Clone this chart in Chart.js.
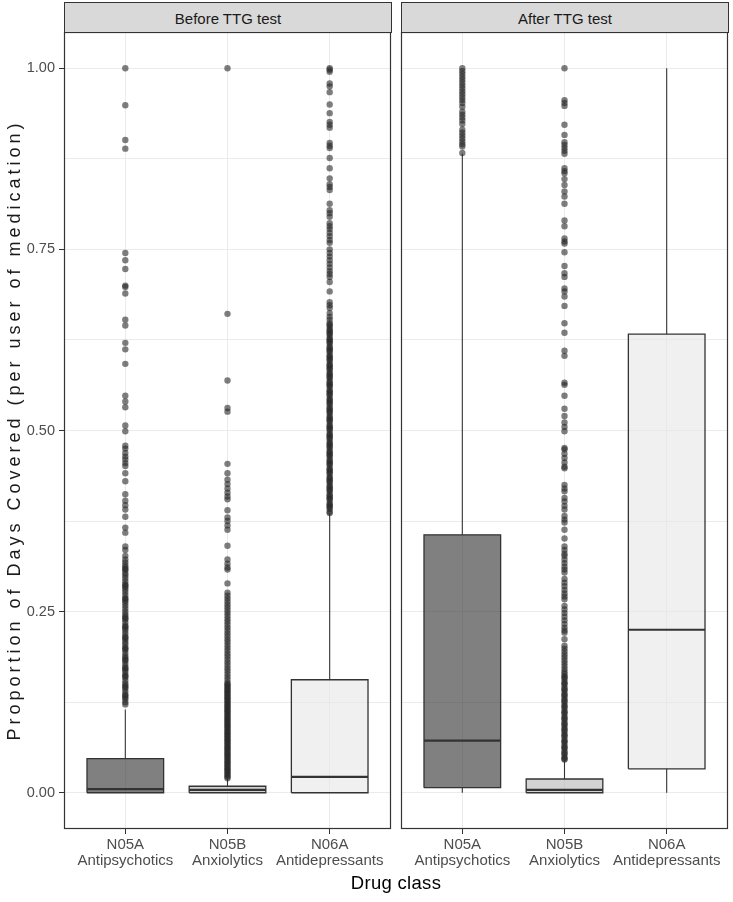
<!DOCTYPE html>
<html>
<head>
<meta charset="utf-8">
<script src="https://cdn.jsdelivr.net/npm/chart.js@4.4.0/dist/chart.umd.min.js"></script>
<style>
html,body{margin:0;padding:0;background:#fff;}
#wrap{position:relative;width:733px;height:902px;overflow:hidden;font-family:"Liberation Sans",Arial,sans-serif;}
canvas{position:absolute;top:0;}
.strip{position:absolute;top:2px;height:31px;box-sizing:border-box;background:#d9d9d9;border:1px solid #333;color:#1a1a1a;font-size:15px;line-height:31px;text-align:center;}
#xtitle{position:absolute;left:0;width:792px;top:872px;font-size:18.5px;line-height:22px;text-align:center;color:#000;letter-spacing:0.3px;}
#ytitle{position:absolute;left:14px;top:430px;width:700px;height:22px;margin-left:-350px;margin-top:-11px;transform:rotate(-90deg);font-size:18px;line-height:22px;text-align:center;color:#1a1a1a;letter-spacing:4px;white-space:nowrap;}
</style>
</head>
<body>
<div id="wrap">
  <canvas id="cBefore" width="396" height="902" style="left:0px;width:396px;height:902px"></canvas>
  <canvas id="cAfter" width="337" height="902" style="left:396px;width:337px;height:902px"></canvas>
  <div class="strip" id="s0" style="left:64px;width:328px"></div>
  <div class="strip" id="s1" style="left:401px;width:328px"></div>
  <div id="xtitle"></div>
  <div id="ytitle"></div>
</div>
<script>
// ---------- data ----------
const panels = ['Before TTG test', 'After TTG test'];
const categories = ['N05A', 'N05B', 'N06A'];
const categoryNames = ['Antipsychotics', 'Anxiolytics', 'Antidepressants'];
const positions = [1, 2, 3];
const xTitle = 'Drug class';
const yTitle = 'Proportion of Days Covered (per user of medication)';
const yMajorTicks = [0, 0.25, 0.5, 0.75, 1];
const yTickLabels = ['0.00', '0.25', '0.50', '0.75', '1.00'];
const yGridValues = [0, 0.125, 0.25, 0.375, 0.5, 0.625, 0.75, 0.875, 1];

// box statistics (per category N05A, N05B, N06A)
const beforeLower  = [0, 0, 0];
const beforeQ1     = [0, 0, 0];
const beforeMedian = [0.005, 0.004, 0.022];
const beforeQ3     = [0.047, 0.009, 0.156];
const beforeUpper  = [0.115, 0.019, 0.385];

const afterLower  = [0, 0, 0];
const afterQ1     = [0.007, 0, 0.033];
const afterMedian = [0.072, 0.004, 0.225];
const afterQ3     = [0.356, 0.019, 0.633];
const afterUpper  = [0.882, 0.045, 1.0];

// outliers
const beforeOutN05A = [1.000, 0.949, 0.901, 0.889, 0.745, 0.735, 0.723, 0.700, 0.698, 0.689, 0.653, 0.645, 0.621, 0.612, 0.592, 0.548, 0.540, 0.532, 0.507, 0.499, 0.479, 0.475, 0.469, 0.464, 0.460, 0.455, 0.451, 0.441, 0.430, 0.412, 0.403, 0.397, 0.391, 0.381, 0.366, 0.359, 0.340, 0.335, 0.327,
  0.322, 0.318, 0.314, 0.311, 0.307, 0.303, 0.300, 0.296, 0.292, 0.288, 0.284, 0.281, 0.277, 0.273, 0.269, 0.265, 0.262, 0.258, 0.254, 0.250, 0.246, 0.243, 0.239, 0.235, 0.231, 0.227, 0.224, 0.220, 0.216, 0.212, 0.208, 0.205, 0.201, 0.197, 0.193, 0.189, 0.186, 0.182, 0.178, 0.174, 0.170, 0.167, 0.163, 0.159, 0.155, 0.151, 0.148, 0.144, 0.140, 0.136, 0.132, 0.129, 0.125, 0.122,
  0.309, 0.286, 0.267, 0.241, 0.229, 0.214, 0.199, 0.184, 0.172, 0.161, 0.146, 0.134];
const beforeOutN05B = [1.000, 0.661, 0.569, 0.531, 0.526, 0.454, 0.441, 0.432, 0.426, 0.420, 0.414, 0.409, 0.405, 0.390, 0.380, 0.375, 0.369, 0.363, 0.341, 0.322, 0.316, 0.311, 0.308, 0.289,
  0.276, 0.272, 0.268, 0.264, 0.260, 0.256, 0.252, 0.248, 0.244, 0.240, 0.236, 0.232, 0.228, 0.224, 0.220, 0.216, 0.212, 0.208, 0.204, 0.200, 0.196, 0.192, 0.188, 0.184, 0.180, 0.176, 0.172, 0.168, 0.164, 0.160, 0.156, 0.152, 0.148, 0.144, 0.140, 0.136, 0.132, 0.128, 0.124, 0.120, 0.116, 0.112, 0.108, 0.104, 0.100, 0.096, 0.092, 0.088, 0.084, 0.080, 0.076, 0.072, 0.068, 0.064, 0.060, 0.056, 0.052, 0.048, 0.044, 0.040, 0.036, 0.032, 0.028, 0.024, 0.020,
  0.150, 0.146, 0.142, 0.138, 0.134, 0.130, 0.126, 0.122, 0.118, 0.114, 0.110, 0.106, 0.102, 0.098, 0.094, 0.090, 0.086, 0.082, 0.078, 0.074, 0.070, 0.066, 0.062, 0.058, 0.054, 0.050, 0.046, 0.042, 0.038, 0.034, 0.030, 0.026, 0.022];
const beforeOutN06A = [1.000, 0.998, 0.995, 0.979, 0.975, 0.967, 0.950, 0.938, 0.926, 0.922, 0.918, 0.897, 0.893, 0.890, 0.876, 0.862, 0.848, 0.840, 0.836, 0.832, 0.813, 0.804, 0.800, 0.795, 0.786, 0.782, 0.778, 0.773, 0.768, 0.763, 0.759, 0.750, 0.745, 0.740, 0.735, 0.730, 0.725, 0.720, 0.716, 0.712, 0.705, 0.692, 0.677, 0.673, 0.669, 0.662, 0.657, 0.653,
  0.648, 0.644, 0.640, 0.636, 0.632, 0.628, 0.624, 0.620, 0.616, 0.612, 0.608, 0.604, 0.600, 0.596, 0.592, 0.588, 0.584, 0.580, 0.576, 0.572, 0.568, 0.564, 0.560, 0.556, 0.552, 0.548, 0.544, 0.540, 0.536, 0.532, 0.528, 0.524, 0.520, 0.516, 0.512, 0.508, 0.504, 0.500, 0.496, 0.492, 0.488, 0.484, 0.480, 0.476, 0.472, 0.468, 0.464, 0.460, 0.456, 0.452, 0.448, 0.444, 0.440, 0.436, 0.432, 0.428, 0.424, 0.420, 0.416, 0.412, 0.408, 0.404, 0.400, 0.396, 0.392, 0.388,
  0.638, 0.626, 0.614, 0.602, 0.590, 0.578, 0.566, 0.554, 0.542, 0.530, 0.518, 0.506, 0.494, 0.482, 0.470, 0.458, 0.446, 0.434, 0.422, 0.410, 0.398, 0.386,
  0.646, 0.634, 0.622, 0.610, 0.598, 0.586, 0.574, 0.562, 0.550, 0.538, 0.526, 0.514, 0.502, 0.490, 0.478, 0.466, 0.454, 0.442, 0.430, 0.418, 0.406, 0.394];
const afterOutN05A = [1.000, 0.996, 0.992, 0.988, 0.984, 0.980, 0.976, 0.972, 0.968, 0.964, 0.960, 0.956, 0.952, 0.947, 0.940, 0.936, 0.932, 0.928, 0.923, 0.915, 0.911, 0.907, 0.903, 0.899, 0.895, 0.892, 0.883];
const afterOutN05B = [1.000, 0.956, 0.952, 0.948, 0.922, 0.908, 0.898, 0.894, 0.890, 0.886, 0.882, 0.862, 0.858, 0.855, 0.847, 0.839, 0.830, 0.823, 0.813, 0.790, 0.782, 0.765, 0.761, 0.758, 0.746, 0.727, 0.717, 0.712, 0.696, 0.692, 0.685, 0.672, 0.648, 0.635, 0.610, 0.603, 0.566, 0.563, 0.548, 0.530, 0.520, 0.511, 0.505, 0.499, 0.476, 0.474, 0.468, 0.462, 0.456, 0.450, 0.448, 0.425, 0.420, 0.416, 0.407, 0.402, 0.396, 0.391, 0.382, 0.377, 0.373, 0.363, 0.351, 0.340, 0.335, 0.330, 0.327, 0.322, 0.317, 0.312, 0.308, 0.304, 0.295, 0.290, 0.285, 0.280, 0.275, 0.271, 0.267, 0.258, 0.253, 0.248, 0.243, 0.238, 0.233, 0.228, 0.224, 0.221, 0.212, 0.203, 0.199, 0.195, 0.191, 0.187, 0.183, 0.179, 0.175, 0.171, 0.167, 0.164, 0.161,
  0.157, 0.153, 0.149, 0.145, 0.141, 0.137, 0.133, 0.129, 0.125, 0.121, 0.117, 0.113, 0.109, 0.105, 0.101, 0.097, 0.093, 0.089, 0.085, 0.081, 0.077, 0.073, 0.069, 0.065, 0.061, 0.057, 0.053, 0.049, 0.046,
  0.159, 0.151, 0.143, 0.135, 0.127, 0.119, 0.111, 0.103, 0.095, 0.087, 0.079, 0.071, 0.063, 0.055, 0.047];
const afterOutN06A = [];

// ---------- styles ----------
const FONT = '"Liberation Sans", Arial, sans-serif';
const BOX_HALF = 0.375;
const boxFill = ['rgba(43,43,43,0.6)', 'rgba(182,182,182,0.6)', 'rgba(230,230,230,0.6)'];
const LINE = '#333333';
const GRID = '#ebebeb';
const TICK_TEXT = '#4d4d4d';
const POINT = 'rgba(40,40,40,0.6)';

Chart.defaults.font.family = FONT;

document.getElementById('s0').textContent = panels[0];
document.getElementById('s1').textContent = panels[1];
document.getElementById('xtitle').textContent = xTitle;
document.getElementById('ytitle').textContent = yTitle;

const panelBorder = {
  id: 'panelBorder',
  afterDatasetsDraw(chart) {
    const a = chart.chartArea, c = chart.ctx;
    c.save();
    c.strokeStyle = LINE; c.lineWidth = 1.2;
    c.strokeRect(Math.round(a.left) + 0.5, Math.round(a.top) + 0.5, Math.round(a.right - a.left) - 1, Math.round(a.bottom - a.top) - 1);
    c.restore();
  }
};

function makeChart(id, lower, q1, median, q3, upper, outliers, showY) {
  const datasets = [];
  const pts = [];
  outliers.forEach((arr, i) => arr.forEach(v => pts.push({x: positions[i], y: v})));
  datasets.push({type: 'scatter', data: pts, pointRadius: 3.2, pointHoverRadius: 3.2, pointBorderWidth: 0, backgroundColor: POINT, borderColor: 'rgba(0,0,0,0)', order: 0});
  positions.forEach((p, i) => {
    datasets.push({type: 'line', data: [{x: p - BOX_HALF, y: median[i]}, {x: p + BOX_HALF, y: median[i]}],
      borderColor: LINE, borderWidth: 2.2, pointRadius: 0, fill: false, borderCapStyle: 'butt', order: 1});
    datasets.push({type: 'line', data: [{x: p - BOX_HALF, y: q1[i]}, {x: p + BOX_HALF, y: q1[i]}, {x: p + BOX_HALF, y: q3[i]}, {x: p - BOX_HALF, y: q3[i]}, {x: p - BOX_HALF, y: q1[i]}],
      borderColor: LINE, borderWidth: 1.3, pointRadius: 0, fill: 'shape', backgroundColor: boxFill[i], borderJoinStyle: 'miter', tension: 0, order: 2});
    datasets.push({type: 'line', data: [{x: p, y: upper[i]}, {x: p, y: q3[i]}, {x: p, y: null}, {x: p, y: q1[i]}, {x: p, y: lower[i]}],
      borderColor: LINE, borderWidth: 1.1, pointRadius: 0, fill: false, spanGaps: false, order: 3});
  });
  return new Chart(document.getElementById(id), {
    type: 'line',
    data: {datasets},
    plugins: [panelBorder],
    options: {
      responsive: false, animation: false, devicePixelRatio: 1,
      layout: {padding: {top: 32, right: 5, left: 0, bottom: 0}},
      plugins: {legend: {display: false}, tooltip: {enabled: false}},
      events: [],
      scales: {
        x: {
          type: 'linear', min: 0.4, max: 3.6,
          afterBuildTicks: s => { s.ticks = positions.map(v => ({value: v})); },
          afterFit: s => { s.height = 73; },
          ticks: {color: TICK_TEXT, font: {size: 15, lineHeight: 1.05}, padding: 3, maxRotation: 0, autoSkip: false,
            callback: v => { const i = positions.indexOf(v); return i >= 0 ? [categories[i], categoryNames[i]] : ''; }},
          grid: {color: GRID, lineWidth: 1, tickLength: 5, tickColor: LINE},
          border: {display: false}
        },
        y: {
          type: 'linear', min: -0.05, max: 1.05,
          afterBuildTicks: s => { s.ticks = yGridValues.map(v => ({value: v})); },
          afterFit: s => { s.width = showY ? 64 : 5; },
          ticks: {display: showY, color: TICK_TEXT, font: {size: 14.5}, padding: 4,
            callback: v => { const i = yMajorTicks.indexOf(v); return i >= 0 ? yTickLabels[i] : ''; }},
          grid: {color: GRID, lineWidth: 1, drawTicks: showY, tickLength: 5,
            tickColor: ctx => (ctx.tick && yMajorTicks.indexOf(ctx.tick.value) >= 0) ? LINE : 'rgba(0,0,0,0)'},
          border: {display: false},
          title: {display: false}
        }
      }
    }
  });
}

makeChart('cBefore', beforeLower, beforeQ1, beforeMedian, beforeQ3, beforeUpper, [beforeOutN05A, beforeOutN05B, beforeOutN06A], true);
makeChart('cAfter', afterLower, afterQ1, afterMedian, afterQ3, afterUpper, [afterOutN05A, afterOutN05B, afterOutN06A], false);
</script>
</body>
</html>
